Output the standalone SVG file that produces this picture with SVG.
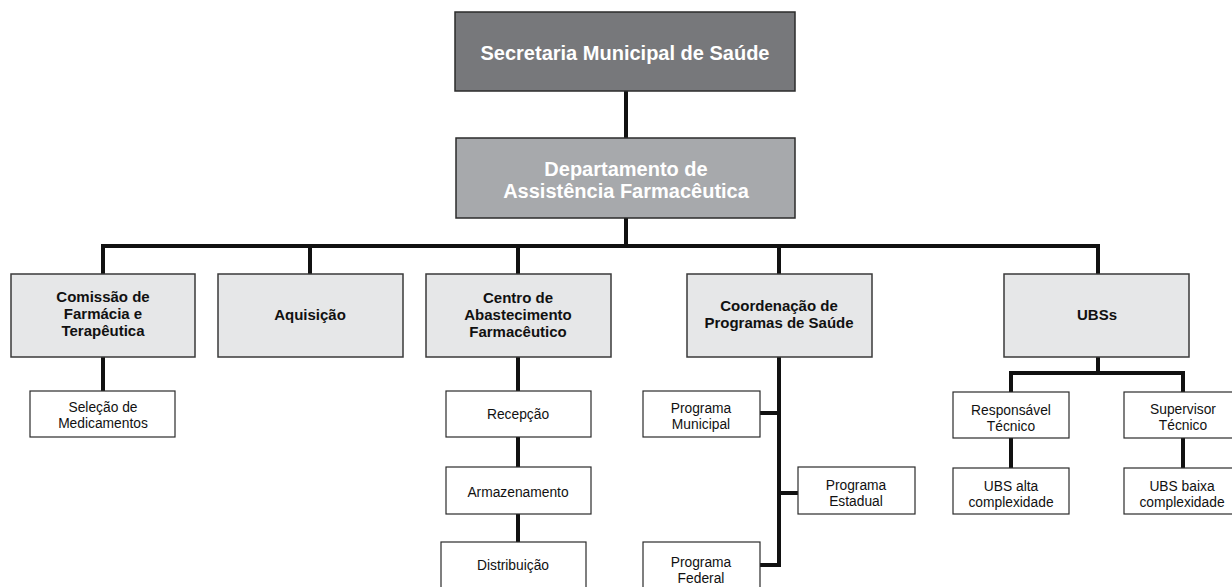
<svg xmlns="http://www.w3.org/2000/svg" width="1232" height="587" viewBox="0 0 1232 587">
  <style>
    .lnk { fill: none; stroke: #111; stroke-width: 4; stroke-linejoin: miter; stroke-linecap: square; }
    .top { fill: #77787b; stroke: #2b2b2b; stroke-width: 1.5; }
    .dept { fill: #a7a9ac; stroke: #2b2b2b; stroke-width: 1.5; }
    .unit { fill: #e6e7e8; stroke: #3a3a3a; stroke-width: 1.5; }
    .leaf { fill: #ffffff; stroke: #2b2b2b; stroke-width: 1.2; }
    .hd { font-family: "Liberation Sans", Arial, sans-serif; font-weight: bold; font-size: 20px; fill: #ffffff; text-anchor: middle; }
    .ut { font-family: "Liberation Sans", Arial, sans-serif; font-weight: bold; font-size: 15px; fill: #111; text-anchor: middle; }
    .lt { font-family: "Liberation Sans", Arial, sans-serif; font-size: 13.8px; fill: #111; text-anchor: middle; }
  </style>
  <rect width="1232" height="587" fill="#ffffff"/>

  <g id="connectors">
    <path class="lnk" d="M626 91 V138"/>
    <path class="lnk" d="M626 218 V246"/>
    <path class="lnk" d="M103 274 V246 H1098 V274"/>
    <path class="lnk" d="M310 246 V274"/>
    <path class="lnk" d="M518 246 V274"/>
    <path class="lnk" d="M779 246 V274"/>
    <path class="lnk" d="M103 357 V391"/>
    <path class="lnk" d="M518 357 V542"/>
    <path class="lnk" d="M779 357 V565 H760"/>
    <path class="lnk" d="M760 413 H779"/>
    <path class="lnk" d="M779 493 H798"/>
    <path class="lnk" d="M1098 357 V373"/>
    <path class="lnk" d="M1011 392 V373 H1183 V392"/>
    <path class="lnk" d="M1011 438 V468"/>
    <path class="lnk" d="M1183 438 V468"/>
  </g>

  <g id="secretaria">
    <rect class="top" x="455" y="12" width="340" height="79"/>
    <text class="hd" x="625" y="60">Secretaria Municipal de Saúde</text>
  </g>
  <g id="departamento">
    <rect class="dept" x="456" y="138" width="339" height="80"/>
    <text class="hd" x="626" y="176">Departamento de</text>
    <text class="hd" x="626" y="198">Assistência Farmacêutica</text>
  </g>

  <g id="comissao">
    <rect class="unit" x="11" y="274" width="184" height="83"/>
    <text class="ut" x="103" y="302">Comissão de</text>
    <text class="ut" x="103" y="319">Farmácia e</text>
    <text class="ut" x="103" y="336">Terapêutica</text>
  </g>
  <g id="aquisicao">
    <rect class="unit" x="218" y="274" width="185" height="83"/>
    <text class="ut" x="310" y="320">Aquisição</text>
  </g>
  <g id="centro">
    <rect class="unit" x="426" y="274" width="185" height="83"/>
    <text class="ut" x="518" y="303">Centro de</text>
    <text class="ut" x="518" y="320">Abastecimento</text>
    <text class="ut" x="518" y="337">Farmacêutico</text>
  </g>
  <g id="coordenacao">
    <rect class="unit" x="687" y="274" width="185" height="83"/>
    <text class="ut" x="779" y="311">Coordenação de</text>
    <text class="ut" x="779" y="328">Programas de Saúde</text>
  </g>
  <g id="ubss">
    <rect class="unit" x="1004" y="274" width="185" height="83"/>
    <text class="ut" x="1097" y="320">UBSs</text>
  </g>

  <g id="selecao">
    <rect class="leaf" x="30" y="391" width="145" height="46"/>
    <text class="lt" x="103" y="412">Seleção de</text>
    <text class="lt" x="103" y="428">Medicamentos</text>
  </g>
  <g id="recepcao">
    <rect class="leaf" x="446" y="391" width="145" height="46"/>
    <text class="lt" x="518" y="419">Recepção</text>
  </g>
  <g id="armazenamento">
    <rect class="leaf" x="446" y="467" width="145" height="47"/>
    <text class="lt" x="518" y="497">Armazenamento</text>
  </g>
  <g id="distribuicao">
    <rect class="leaf" x="441" y="542" width="145" height="50"/>
    <text class="lt" x="513" y="570">Distribuição</text>
  </g>
  <g id="prog-municipal">
    <rect class="leaf" x="643" y="391" width="117" height="46"/>
    <text class="lt" x="701" y="413">Programa</text>
    <text class="lt" x="701" y="429">Municipal</text>
  </g>
  <g id="prog-estadual">
    <rect class="leaf" x="798" y="467" width="117" height="47"/>
    <text class="lt" x="856" y="490">Programa</text>
    <text class="lt" x="856" y="506">Estadual</text>
  </g>
  <g id="prog-federal">
    <rect class="leaf" x="643" y="542" width="117" height="50"/>
    <text class="lt" x="701" y="567">Programa</text>
    <text class="lt" x="701" y="583">Federal</text>
  </g>
  <g id="responsavel">
    <rect class="leaf" x="953" y="392" width="116" height="46"/>
    <text class="lt" x="1011" y="415">Responsável</text>
    <text class="lt" x="1011" y="431">Técnico</text>
  </g>
  <g id="supervisor">
    <rect class="leaf" x="1124" y="392" width="112" height="46"/>
    <text class="lt" x="1183" y="414">Supervisor</text>
    <text class="lt" x="1183" y="430">Técnico</text>
  </g>
  <g id="ubs-alta">
    <rect class="leaf" x="953" y="468" width="116" height="46"/>
    <text class="lt" x="1011" y="491">UBS alta</text>
    <text class="lt" x="1011" y="507">complexidade</text>
  </g>
  <g id="ubs-baixa">
    <rect class="leaf" x="1124" y="468" width="112" height="46"/>
    <text class="lt" x="1182" y="491">UBS baixa</text>
    <text class="lt" x="1182" y="507">complexidade</text>
  </g>
</svg>
